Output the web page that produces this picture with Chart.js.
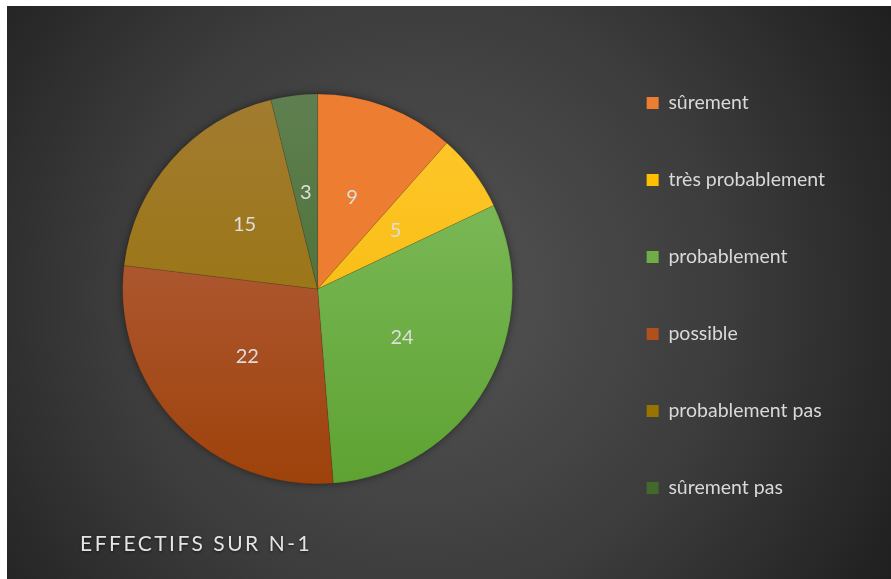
<!DOCTYPE html>
<html>
<head>
<meta charset="utf-8">
<script src="https://cdn.jsdelivr.net/npm/chart.js@4/dist/chart.umd.min.js"></script>
<style>
    html, body { margin: 0; padding: 0; background: #fff; }
    canvas { display: block; }
</style>
</head>
<body>
<canvas id="pie-chart" width="891" height="579"></canvas>
<script>
const categories = ['sûrement', 'très probablement', 'probablement', 'possible', 'probablement pas', 'sûrement pas'];
const values = [9, 5, 24, 22, 15, 3];
const chartTitle = 'EFFECTIFS SUR N-1';

// solid colours (legend) and light/dark ends for the slice gradients
const solidColors = ['#ED7D31', '#FFC000', '#70AD47', '#B0501C', '#997300', '#43682B'];
const topColors = ['#F38F58', '#FFC82E', '#84C063', '#B8674C', '#A27C30', '#5F7F50'];
const bottomColors = ['#EE7A2C', '#F3B600', '#5EA232', '#9E420A', '#957000', '#416928'];

const fontFamily = 'Lato, "Open Sans", sans-serif';

const sliceGradient = function(context){
    const chart = context.chart;
    const meta = chart.getDatasetMeta(0);
    const arc = meta.data[0];
    if(!arc || !arc.outerRadius){
        return solidColors[context.dataIndex];
    }
    const ctx = chart.ctx;
    const g = ctx.createLinearGradient(0, arc.y - arc.outerRadius, 0, arc.y + arc.outerRadius);
    g.addColorStop(0, topColors[context.dataIndex]);
    g.addColorStop(1, bottomColors[context.dataIndex]);
    return g;
};

const backgroundPlugin = {
    id: 'background',
    beforeDraw(chart){
        const ctx = chart.ctx;
        ctx.save();
        ctx.fillStyle = '#ffffff';
        ctx.fillRect(0, 0, chart.width, chart.height);
        const g = ctx.createRadialGradient(420, 295, 0, 420, 295, 560);
        g.addColorStop(0, '#555555');
        g.addColorStop(0.55, '#3c3c3c');
        g.addColorStop(1, '#1e1e1e');
        ctx.fillStyle = g;
        ctx.fillRect(7, 6, chart.width - 7, chart.height - 6);
        ctx.restore();
    }
};

const shadowPlugin = {
    id: 'pieShadow',
    beforeDatasetsDraw(chart){
        const arc = chart.getDatasetMeta(0).data[0];
        if(!arc){ return; }
        const ctx = chart.ctx;
        ctx.save();
        ctx.shadowColor = 'rgba(0,0,0,0.55)';
        ctx.shadowBlur = 10;
        ctx.fillStyle = '#444';
        ctx.beginPath();
        ctx.arc(arc.x, arc.y, arc.outerRadius - 1, 0, Math.PI * 2);
        ctx.fill();
        ctx.restore();
    }
};

const valueLabels = {
    id: 'valueLabels',
    afterDatasetsDraw(chart){
        const ctx = chart.ctx;
        const meta = chart.getDatasetMeta(0);
        ctx.save();
        ctx.font = '20px ' + fontFamily;
        ctx.fillStyle = '#dedede';
        ctx.textAlign = 'center';
        ctx.textBaseline = 'middle';
        meta.data.forEach((arc, i) => {
            const pos = arc.tooltipPosition();
            ctx.fillText(String(values[i]), pos.x, pos.y);
        });
        ctx.restore();
    }
};

const titlePlugin = {
    id: 'spacedTitle',
    afterDraw(chart){
        const ctx = chart.ctx;
        ctx.save();
        ctx.font = '21px ' + fontFamily;
        ctx.letterSpacing = '2.5px';
        ctx.fillStyle = '#e4e4e4';
        ctx.textBaseline = 'alphabetic';
        ctx.shadowColor = 'rgba(0,0,0,0.6)';
        ctx.shadowBlur = 3;
        ctx.shadowOffsetY = 1;
        ctx.fillText(chartTitle, 80, 551);
        ctx.restore();
    }
};

new Chart(document.getElementById('pie-chart'), {
    type: 'pie',
    data: {
        labels: categories,
        datasets: [{
            data: values,
            backgroundColor: sliceGradient,
            borderColor: 'rgba(0,0,0,0.12)',
            borderWidth: 1,
            radius: 195
        }]
    },
    options: {
        responsive: false,
        animation: false,
        layout: {
            padding: { left: 46, right: 56, top: 0, bottom: 1 }
        },
        plugins: {
            tooltip: { enabled: false },
            legend: {
                position: 'right',
                title: { display: true, text: '', padding: 0, font: { size: 10, lineHeight: 1.3 } },
                labels: {
                    boxWidth: 12,
                    boxHeight: 12,
                    padding: 57.5,
                    color: '#d9d9d9',
                    font: { size: 19.5, family: fontFamily },
                    generateLabels(chart){
                        const items = Chart.controllers.pie.overrides.plugins.legend.labels.generateLabels(chart);
                        items.forEach((item, i) => {
                            item.fillStyle = solidColors[i];
                            item.strokeStyle = solidColors[i];
                            item.lineWidth = 0;
                        });
                        return items;
                    }
                }
            }
        }
    },
    plugins: [backgroundPlugin, shadowPlugin, valueLabels, titlePlugin]
});
</script>
</body>
</html>
